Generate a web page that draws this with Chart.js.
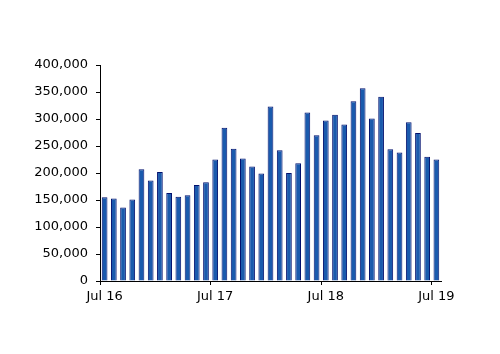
<!DOCTYPE html>
<html>
<head>
<meta charset="utf-8">
<script src="https://cdn.jsdelivr.net/npm/chart.js@4/dist/chart.umd.min.js"></script>
<style>
  html, body { margin: 0; padding: 0; background: #fff; }
  #wrap { width: 500px; height: 354px; }
</style>
</head>
<body>
<div id="wrap"><canvas id="chart" width="500" height="354"></canvas></div>
<script>
// Monthly counts, Jul 2016 .. Jul 2019
const months = [
  'Jul 16', 'Aug 16', 'Sep 16', 'Oct 16', 'Nov 16', 'Dec 16',
  'Jan 17', 'Feb 17', 'Mar 17', 'Apr 17', 'May 17', 'Jun 17',
  'Jul 17', 'Aug 17', 'Sep 17', 'Oct 17', 'Nov 17', 'Dec 17',
  'Jan 18', 'Feb 18', 'Mar 18', 'Apr 18', 'May 18', 'Jun 18',
  'Jul 18', 'Aug 18', 'Sep 18', 'Oct 18', 'Nov 18', 'Dec 18',
  'Jan 19', 'Feb 19', 'Mar 19', 'Apr 19', 'May 19', 'Jun 19',
  'Jul 19',
];
const values = [
  155000, 153000, 136000, 151000, 207000, 186000,
  202000, 163000, 156000, 159000, 178000, 183000,
  225000, 284000, 245000, 227000, 212000, 199000,
  323000, 242000, 200000, 218000, 312000, 270000,
  297000, 308000, 290000, 333000, 357000, 301000,
  341000, 244000, 238000, 294000, 274000, 230000,
  225000,
];
const shownLabels = ['Jul 16', 'Jul 17', 'Jul 18', 'Jul 19'];

const FONT = { family: 'DejaVu Sans', size: 13 };

new Chart(document.getElementById('chart'), {
  type: 'bar',
  data: {
    labels: months,
    datasets: [{
      data: values,
      backgroundColor: '#1a5aad',
      borderColor: '#00106e',
      borderWidth: 1,
      barPercentage: 0.62,
      categoryPercentage: 1,
    }]
  },
  options: {
    responsive: false,
    animation: false,
    layout: { padding: { left: 0, right: 59, top: 65, bottom: 47 } },
    plugins: { legend: { display: false }, tooltip: { enabled: false } },
    scales: {
      x: {
        offset: true,
        grid: {
          offset: true,
          drawOnChartArea: false,
          tickLength: 4,
          tickColor: (c) => shownLabels.includes(months[c.index]) ? '#000' : 'rgba(0,0,0,0)',
        },
        border: { color: '#000', width: 1 },
        ticks: {
          autoSkip: false,
          maxRotation: 0,
          color: '#000',
          font: FONT,
          padding: 4,
          callback: (v, i) => shownLabels.includes(months[i]) ? months[i] : '',
        },
        afterFit: (s) => { s.height = 26; },
      },
      y: {
        min: 0,
        max: 400000,
        grid: { drawOnChartArea: false, tickLength: 4, tickColor: '#000' },
        border: { color: '#000', width: 1 },
        ticks: {
          stepSize: 50000,
          color: '#000',
          font: FONT,
          padding: 8,
          callback: (v) => v.toLocaleString('en-US'),
        },
        afterFit: (s) => { s.width = 100; },
      }
    }
  }
});
</script>
</body>
</html>
